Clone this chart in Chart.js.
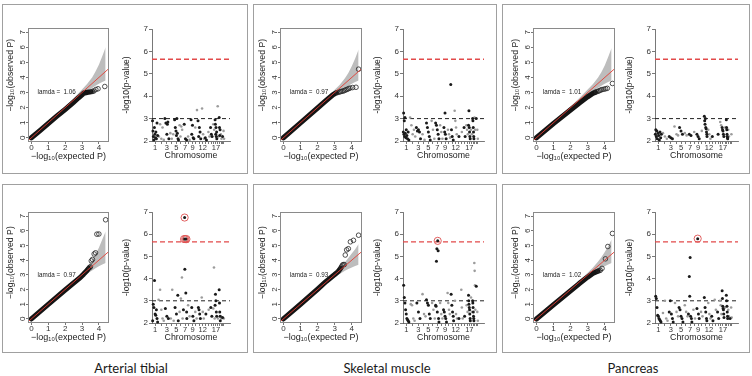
<!DOCTYPE html>
<html><head><meta charset="utf-8">
<script src="https://cdn.jsdelivr.net/npm/chart.js@4/dist/chart.umd.min.js"></script>
<style>
html,body{margin:0;padding:0;background:#fff;}
body{width:752px;height:376px;position:relative;overflow:hidden;}
.box{position:absolute;border:1px solid #a0a0a0;box-sizing:border-box;}
.lbl{position:absolute;font-family:Lato,'Open Sans',sans-serif;font-size:13px;line-height:16px;color:#1a1a1a;transform:translateX(-50%);white-space:nowrap;}
canvas{position:absolute;}
</style></head><body>
<script>
// ================= DATA =================
const tissues = ['Arterial tibial', 'Skeletal muscle', 'Pancreas'];
const lambdas = ['1.06', '0.97', '1.01', '0.97', '0.93', '1.02'];
const chrLen = [249,243,198,191,181,171,159,146,141,136,135,134,115,107,103,90,81,78,59,63,48,51];
const chrLabelled = [1,3,5,7,9,12,17];
const qqTicksX = [0,1,2,3,4];
const qqTicksY = [0,1,2,3,4,5,6,7];
const manTicksY = [2,3,4,5,6,7];
const qqXRange = [-0.2, 4.6];
const qqYRange = [-0.28, 7.28];
const manXRange = [0, 3100];
const manYRange = [2, 7];
const suggestiveLine = 3;
const genomeWideLine = 5.65;
const refLine = [[-0.2,-0.2],[4.6,4.6]];
const lamdaPos = [1.5, 3.0];

// QQ: dense observed body, sparse tail, 95% band
const bandX = [0,1,2,2.5,3,3.3,3.6,3.8,4.0,4.2,4.4];
const bandUpper1 = [0,1.03,2.07,2.62,3.2,3.56,4.0,4.4,4.85,5.4,6.0];
const bandUpper2 = [0,1.03,2.07,2.62,3.18,3.52,3.95,4.3,4.75,5.25,5.85];
const bandUpper3 = [0,1.03,2.07,2.62,3.2,3.55,3.98,4.35,4.8,5.35,5.95];
const bandUpper4 = [0,1.03,2.07,2.62,3.2,3.55,4.0,4.4,4.85,5.4,5.95];
const bandUpper5 = [0,1.03,2.06,2.6,3.15,3.45,3.85,4.15,4.45,4.75,5.1];
const bandUpper6 = [0,1.03,2.06,2.6,3.15,3.48,3.9,4.2,4.55,4.95,5.4];
const bandLower = [0,0.97,1.94,2.4,2.84,3.08,3.3,3.45,3.58,3.7,3.8];
const bandLower5 = [0,0.97,1.94,2.4,2.84,3.06,3.28,3.4,3.5,3.6,3.68];

const qqDense1 = [[0,0],[0.5,0.47],[1,0.95],[1.5,1.42],[2,1.88],[2.5,2.36],[2.8,2.66],[3.0,2.85],[3.1,2.96],[3.3,3.01],[3.55,3.05]];
const qqTail1  = [[3.62,3.08],[3.7,3.1],[3.82,3.2],[3.95,3.25],[4.35,3.4]];
const qqDense2 = [[0,0],[1,0.99],[2,1.98],[2.5,2.47],[2.9,2.85],[3.1,2.98]];
const qqTail2  = [[3.18,3.0],[3.26,3.03],[3.34,3.06],[3.42,3.08],[3.5,3.1],[3.58,3.14],[3.66,3.18],[3.74,3.22],[3.82,3.26],[3.9,3.3],[4.05,3.33],[4.25,3.35],[4.4,4.55]];
const qqDense3 = [[0,0],[1,0.95],[2,1.85],[2.5,2.3],[3,2.72],[3.3,2.95],[3.45,3.02]];
const qqTail3  = [[3.52,3.05],[3.6,3.08],[3.68,3.12],[3.76,3.16],[3.84,3.2],[3.95,3.22],[4.05,3.25],[4.15,3.28],[4.45,3.6]];
const qqDense4 = [[0,0],[1,0.99],[2,1.97],[2.5,2.45],[2.9,2.82],[3.1,3.05],[3.3,3.3],[3.4,3.45]];
const qqTail4  = [[3.45,3.5],[3.5,3.55],[3.55,3.95],[3.62,4.05],[3.72,4.42],[3.8,4.5],[3.88,5.77],[4.0,5.78],[4.4,6.75]];
const qqDense5 = [[0,0],[1,1.0],[2,2.02],[2.5,2.55],[3,3.02],[3.2,3.22],[3.35,3.45]];
const qqTail5  = [[3.4,3.55],[3.45,3.65],[3.5,3.7],[3.56,3.7],[3.62,4.35],[3.7,4.7],[3.8,4.78],[3.92,5.25],[4.1,5.35],[4.4,5.7]];
const qqDense6 = [[0,0],[1,0.96],[2,1.92],[2.5,2.4],[3,2.85],[3.3,3.1],[3.6,3.25]];
const qqTail6  = [[3.66,3.28],[3.74,3.31],[3.84,3.44],[4.04,4.09],[4.18,4.93],[4.45,5.82]];

// Manhattan: [chromosome, fraction along chromosome, -log10(p)]
const man1 = [[1,.08,2.9],[1,.15,2.45],[1,.22,2.2],[1,.3,2.05],[1,.38,2.6],[1,.45,2.3],[1,.55,2.15],[1,.62,2.4],[1,.7,2.1],[1,.8,2.8],[1,.9,2.25],
 [2,.1,2.2],[2,.3,2.75],[2,.5,2.1],[2,.7,2.6],[2,.9,2.05],
 [3,.1,3.0],[3,.3,2.8],[3,.5,2.3],[3,.6,2.75],[3,.7,2.85],[3,.9,2.1],
 [4,.2,2.35],[4,.5,2.1],[4,.8,2.3],
 [5,.1,2.95],[5,.25,2.6],[5,.4,2.45],[5,.5,2.25],[5,.6,3.0],[5,.7,2.35],[5,.85,2.1],[5,.95,2.05],
 [6,.2,2.7],[6,.4,2.2],[6,.6,2.65],[6,.8,2.5],
 [7,.3,2.75],[7,.6,2.1],[7,.9,2.05],
 [8,.3,2.2],[8,.7,2.05],
 [9,.1,2.95],[9,.3,2.3],[9,.5,2.7],[9,.7,2.15],[9,.9,2.1],
 [10,.3,2.6],[10,.8,3.38],
 [11,.1,2.9],[11,.3,2.2],[11,.5,2.6],[11,.7,2.4],[11,.9,2.1],
 [12,.3,3.45],[12,.6,2.3],[12,.9,2.1],
 [13,.3,2.15],[13,.7,2.05],
 [14,.4,2.4],[14,.8,2.2],
 [15,.2,2.6],[15,.5,2.3],[15,.8,2.2],
 [16,.3,2.75],[16,.7,2.5],
 [17,.1,2.95],[17,.25,2.75],[17,.4,2.3],[17,.55,2.6],[17,.7,2.2],[17,.85,2.4],[17,.95,2.1],
 [18,.4,3.55],[18,.8,2.2],
 [19,.2,3.05],[19,.4,2.6],[19,.6,2.25],[19,.8,2.5],
 [20,.3,2.3],[20,.7,2.1],[21,.5,2.2],[22,.3,2.45],[22,.7,2.1]];
const man2 = [[1,.05,2.4],[1,.1,3.25],[1,.15,2.3],[1,.2,2.9],[1,.25,2.2],[1,.3,3.05],[1,.35,2.35],[1,.45,2.15],[1,.5,2.5],[1,.6,2.25],[1,.7,2.1],[1,.8,2.4],[1,.9,2.05],
 [2,.1,3.05],[2,.3,2.7],[2,.5,2.3],[2,.7,2.5],[2,.9,2.2],
 [3,.1,2.6],[3,.3,2.45],[3,.5,2.5],[3,.7,2.4],[3,.9,2.1],
 [4,.3,2.3],[4,.7,2.05],
 [5,.1,2.8],[5,.3,2.6],[5,.5,2.4],[5,.7,2.2],[5,.9,2.05],
 [6,.2,2.9],[6,.5,2.5],[6,.8,2.1],
 [7,.1,2.8],[7,.3,2.7],[7,.5,2.5],[7,.7,2.3],[7,.9,2.1],
 [8,.2,2.7],[8,.5,2.4],[8,.8,2.1],
 [9,.2,2.6],[9,.4,2.4],[9,.5,3.25],[9,.6,2.3],[9,.8,2.1],
 [10,.3,2.5],[10,.6,2.3],[10,.9,2.15],
 [11,.1,4.52],[11,.3,2.5],[11,.5,2.2],[11,.8,2.05],
 [12,.2,3.35],[12,.4,2.9],[12,.6,2.6],[12,.8,2.3],
 [13,.5,2.2],[14,.5,2.4],
 [15,.3,2.6],[15,.7,2.2],
 [16,.2,2.7],[16,.5,2.5],[16,.8,2.3],
 [17,.1,2.7],[17,.3,3.35],[17,.45,2.6],[17,.6,2.4],[17,.75,2.2],[17,.9,2.1],
 [18,.3,2.5],[18,.7,2.3],
 [19,.1,3.0],[19,.3,2.9],[19,.5,2.6],[19,.7,2.4],[19,.85,2.2],[19,.95,2.1],
 [20,.3,3.05],[20,.7,2.5],[21,.5,3.0],[22,.3,2.5],[22,.7,2.1]];
const man3 = [[1,.05,2.3],[1,.12,2.5],[1,.2,2.2],[1,.28,2.45],[1,.35,2.1],[1,.45,2.35],[1,.55,2.25],[1,.65,2.05],[1,.75,2.4],[1,.85,2.15],[1,.95,2.3],
 [2,.2,2.35],[2,.5,2.2],[2,.8,2.1],
 [3,.2,2.2],[3,.5,2.15],[3,.8,2.1],
 [4,.2,2.65],[4,.6,2.3],[4,.9,2.25],
 [5,.2,2.6],[5,.5,2.45],[5,.8,2.3],
 [6,.3,2.35],[6,.7,2.25],
 [7,.3,2.3],[7,.7,2.25],
 [8,.5,2.4],
 [9,.2,2.3],[9,.5,2.2],[9,.8,2.1],
 [10,.5,2.45],
 [11,.2,3.1],[11,.3,2.9],[11,.4,2.75],[11,.5,3.0],[11,.6,2.6],[11,.7,2.55],[11,.8,2.4],[11,.9,2.3],[11,.95,2.2],
 [12,.3,2.5],[12,.6,2.3],[12,.9,2.1],
 [13,.5,2.2],[15,.5,2.3],
 [16,.3,2.85],[16,.7,2.7],
 [17,.1,2.6],[17,.3,2.5],[17,.5,2.45],[17,.7,2.3],[17,.9,2.2],
 [18,.5,2.6],
 [19,.1,2.95],[19,.25,2.6],[19,.4,2.5],[19,.55,2.3],[19,.7,2.2],[19,.85,2.15],[19,.95,2.1],
 [20,.3,2.5],[20,.7,2.2],[22,.5,2.3]];
const man4 = [[1,.1,2.1],[1,.2,2.85],[1,.3,2.7],[1,.4,3.92],[1,.5,2.4],[1,.6,2.35],[1,.7,2.6],[1,.8,2.2],[1,.9,2.05],
 [2,.05,3.05],[2,.3,3.5],[2,.5,2.6],[2,.7,2.2],[2,.9,2.1],
 [3,.2,2.65],[3,.5,2.3],[3,.8,2.2],
 [4,.3,2.2],[4,.6,3.5],[4,.9,2.1],
 [5,.2,2.7],[5,.5,2.4],[5,.8,3.25],[5,.9,2.1],
 [6,.2,2.5],[6,.5,3.1],[6,.75,4.05],[6,.9,2.2],
 [7,.1,2.6],[7,.25,5.78],[7,.4,6.75],[7,.45,4.42],[7,.55,5.78],[7,.7,3.35],[7,.85,5.78],[7,.9,2.5],[7,.95,2.2],
 [8,.3,2.8],[8,.7,2.3],
 [9,.3,2.7],[9,.6,2.3],[9,.9,2.1],
 [10,.3,2.5],[10,.7,2.2],
 [11,.2,2.7],[11,.4,2.6],[11,.6,2.4],[11,.8,2.2],
 [12,.2,3.15],[12,.5,2.5],[12,.8,2.2],
 [13,.5,2.4],[14,.5,2.6],
 [15,.3,2.7],[15,.7,2.3],
 [16,.3,2.65],[16,.6,4.5],[16,.9,2.2],
 [17,.1,2.8],[17,.3,3.3],[17,.5,3.0],[17,.7,2.5],[17,.9,2.3],
 [18,.5,2.2],
 [19,.2,3.5],[19,.4,2.9],[19,.6,2.5],[19,.8,2.3],[19,.95,2.1],
 [20,.3,2.3],[20,.7,2.2],[21,.5,2.25],[22,.5,2.2]];
const man5 = [[1,.1,3.7],[1,.2,3.15],[1,.3,2.9],[1,.4,2.6],[1,.5,2.4],[1,.6,2.2],[1,.7,2.15],[1,.8,2.1],[1,.9,2.05],
 [2,.2,2.85],[2,.4,2.8],[2,.6,2.2],[2,.8,2.1],
 [3,.2,2.9],[3,.5,2.5],[3,.8,2.2],
 [4,.3,3.3],[4,.6,2.4],[4,.9,2.3],
 [5,.1,3.05],[5,.3,2.9],[5,.5,2.8],[5,.7,2.4],[5,.9,2.2],
 [6,.3,2.9],[6,.6,2.6],[6,.9,2.2],
 [7,.1,2.8],[7,.2,2.75],[7,.3,4.78],[7,.4,5.35],[7,.5,2.5],[7,.6,5.7],[7,.7,5.25],[7,.8,2.2],[7,.9,2.05],
 [8,.2,2.9],[8,.5,2.4],[8,.8,2.2],
 [9,.1,2.6],[9,.3,2.5],[9,.5,2.3],[9,.7,2.2],[9,.9,2.05],
 [10,.2,3.35],[10,.4,2.9],[10,.6,2.6],[10,.8,2.4],
 [11,.2,3.3],[11,.4,2.8],[11,.6,2.5],[11,.8,2.3],[11,.9,2.1],
 [12,.3,3.0],[12,.6,2.4],[12,.9,2.2],
 [13,.5,2.2],
 [14,.3,3.5],[14,.5,2.7],[14,.8,2.2],
 [15,.5,2.3],
 [16,.3,2.8],[16,.7,2.5],
 [17,.1,3.25],[17,.2,3.0],[17,.3,2.85],[17,.45,2.7],[17,.6,2.6],[17,.7,2.4],[17,.85,2.2],[17,.95,2.1],
 [18,.3,3.15],[18,.7,2.5],
 [19,.1,3.0],[19,.25,2.9],[19,.4,2.7],[19,.55,2.5],[19,.7,2.3],[19,.85,2.2],[19,.95,2.1],
 [20,.2,4.7],[20,.4,4.35],[20,.6,3.7],[20,.8,2.6],
 [21,.5,3.65],[22,.3,2.5],[22,.7,2.1]];
const man6 = [[1,.1,3.2],[1,.2,3.1],[1,.3,2.7],[1,.4,2.35],[1,.5,2.3],[1,.6,2.2],[1,.7,2.15],[1,.8,2.1],[1,.9,2.05],
 [2,.2,2.45],[2,.5,3.0],[2,.7,2.2],[2,.9,2.1],
 [3,.2,2.5],[3,.4,3.0],[3,.6,2.4],[3,.8,2.2],[3,.95,2.05],
 [4,.3,2.9],[4,.6,2.5],[4,.9,2.3],
 [5,.1,2.7],[5,.3,2.6],[5,.5,2.3],[5,.7,2.2],[5,.9,2.05],
 [6,.3,2.8],[6,.6,2.5],[6,.9,2.3],
 [7,.1,2.4],[7,.3,4.1],[7,.4,3.2],[7,.5,4.95],[7,.6,2.3],[7,.8,2.2],[7,.9,2.05],
 [8,.3,2.6],[8,.7,2.2],
 [9,.2,2.65],[9,.4,5.8],[9,.6,2.4],[9,.8,2.2],
 [10,.3,2.5],[10,.7,2.3],
 [11,.2,3.15],[11,.4,2.7],[11,.6,2.5],[11,.8,2.2],[11,.9,2.1],
 [12,.3,2.9],[12,.6,2.4],[12,.9,2.2],
 [13,.3,2.3],[13,.7,2.1],
 [14,.3,3.05],[14,.7,2.6],
 [15,.3,2.5],[15,.7,2.2],
 [16,.2,3.0],[16,.5,2.8],[16,.8,2.4],
 [17,.1,3.45],[17,.25,3.1],[17,.4,2.75],[17,.55,2.65],[17,.7,2.6],[17,.85,2.4],[17,.95,2.25],
 [18,.5,2.7],
 [19,.1,3.25],[19,.3,3.0],[19,.5,2.75],[19,.7,2.5],[19,.85,2.3],[19,.95,2.2],
 [20,.3,2.6],[20,.7,2.3],[21,.5,2.2],[22,.3,2.7],[22,.7,2.25]];
const hits1 = [], hits2 = [], hits3 = [];
const hits4 = [[7,.25,5.78],[7,.4,6.75],[7,.55,5.78],[7,.85,5.78]];
const hits5 = [[7,.6,5.7]];
const hits6 = [[9,.4,5.8]];

// ================= LAYOUT =================
const F = "'Liberation Sans', Arial, Helvetica, sans-serif";
const cols = [{qq:[28,109], man:[152,230], box:[2,248]}, {qq:[280,362], man:[403,484], box:[253,497]}, {qq:[533,615], man:[655,738], box:[502,750]}];
const rows = [{qq:[28,142], man:[29,141], box:[4,174], titlePad:'        '}, {qq:[212,323], man:[212,323], box:[184,353], titlePad:'    '}];

const panels = [
  {lam:lambdas[0], dense:qqDense1, tail:qqTail1, up:bandUpper1, lo:bandLower, man:man1, hits:hits1},
  {lam:lambdas[1], dense:qqDense2, tail:qqTail2, up:bandUpper2, lo:bandLower, man:man2, hits:hits2},
  {lam:lambdas[2], dense:qqDense3, tail:qqTail3, up:bandUpper3, lo:bandLower, man:man3, hits:hits3},
  {lam:lambdas[3], dense:qqDense4, tail:qqTail4, up:bandUpper4, lo:bandLower, man:man4, hits:hits4},
  {lam:lambdas[4], dense:qqDense5, tail:qqTail5, up:bandUpper5, lo:bandLower5, man:man5, hits:hits5},
  {lam:lambdas[5], dense:qqDense6, tail:qqTail6, up:bandUpper6, lo:bandLower, man:man6, hits:hits6}
];

const chrStart = []; let acc = 0; chrLen.forEach(l => { chrStart.push(acc); acc += l; });
const chrCenter = chrLen.map((l, i) => chrStart[i] + l / 2);
const toXY = a => a.map(p => ({x: p[0], y: p[1]}));
const toGenome = t => ({x: chrStart[t[0]-1] + t[1] * chrLen[t[0]-1], y: t[2]});

function mk(left, top, w, h) {
  const c = document.createElement('canvas');
  c.width = w; c.height = h;
  c.style.left = left + 'px'; c.style.top = top + 'px';
  c.style.width = w + 'px'; c.style.height = h + 'px';
  document.body.appendChild(c);
  return c;
}
function addDiv(cls, left, top, w, h, text) {
  const d = document.createElement('div'); d.className = cls;
  d.style.left = left + 'px'; d.style.top = top + 'px';
  if (w) d.style.width = w + 'px';
  if (h) d.style.height = h + 'px';
  if (text) d.textContent = text;
  document.body.appendChild(d);
}

const framePlugin = {id: 'frame', afterDatasetsDraw(chart) {
  const a = chart.chartArea, ctx = chart.ctx;
  ctx.save(); ctx.strokeStyle = '#8a8a8a'; ctx.lineWidth = 1;
  ctx.strokeRect(Math.round(a.left) + 0.5, Math.round(a.top) + 0.5, Math.round(a.right - a.left) - 1, Math.round(a.bottom - a.top) - 1);
  ctx.restore();
}};
const lamdaPlugin = {id: 'lamda', afterDatasetsDraw(chart) {
  const o = chart.options.plugins.lamda; if (!o || !o.text) return;
  const ctx = chart.ctx, x = chart.scales.x, y = chart.scales.y;
  ctx.save(); ctx.font = '6.3px ' + F; ctx.fillStyle = '#222'; ctx.textAlign = 'center'; ctx.textBaseline = 'middle';
  ctx.fillText(o.text, x.getPixelForValue(o.px), y.getPixelForValue(o.py));
  ctx.restore();
}};

function tickGrid(len) { return {drawOnChartArea: false, drawTicks: true, tickLength: len, color: '#555', lineWidth: 0.8}; }

function drawQQ(p, col, row) {
  const [fx0, fx1] = col.qq, [fy0, fy1] = row.qq;
  const WY = 23, HX = 20, PT = 6, PR = 6;
  const c = mk(fx0 - WY, fy0 - PT, fx1 - fx0 + WY + PR, fy1 - fy0 + PT + HX);
  const band = arr => arr.map((v, i) => ({x: bandX[i], y: v}));
  new Chart(c, {
    type: 'line',
    data: {datasets: [
      {data: toXY(refLine), borderColor: 'rgba(226,62,52,0.9)', borderWidth: 1, pointRadius: 0, order: 0},
      {data: toXY(p.tail), showLine: false, pointRadius: 2.3, pointBorderWidth: 0.8, pointBorderColor: '#262626', pointBackgroundColor: 'rgba(255,255,255,0)', order: 1},
      {data: toXY(p.dense), borderColor: '#141414', borderWidth: 5.2, borderCapStyle: 'round', borderJoinStyle: 'round', pointRadius: 0, order: 2},
      {data: band(p.up), borderWidth: 0, borderColor: 'rgba(0,0,0,0)', pointRadius: 0, fill: '+1', backgroundColor: '#bdbdbd', order: 3},
      {data: band(p.lo), borderWidth: 0, borderColor: 'rgba(0,0,0,0)', pointRadius: 0, fill: false, order: 4}
    ]},
    options: {
      responsive: false, animation: false, devicePixelRatio: 1, events: [],
      layout: {padding: {top: PT, right: PR, left: 0, bottom: 0}},
      elements: {line: {tension: 0}},
      plugins: {legend: {display: false}, tooltip: {enabled: false}, lamda: {text: 'lamda =  ' + p.lam, px: lamdaPos[0], py: lamdaPos[1]}},
      scales: {
        x: {type: 'linear', min: qqXRange[0], max: qqXRange[1],
          afterBuildTicks: s => { s.ticks = qqTicksX.map(v => ({value: v})); },
          afterFit: s => { s.height = HX; },
          border: {display: false}, grid: tickGrid(2),
          ticks: {autoSkip: false, maxRotation: 0, padding: 0, color: '#333', font: {family: F, size: 8, lineHeight: 1}},
          title: {display: true, text: '−log₁₀(expected P)', color: '#222', padding: 0, font: {family: F, size: 9, lineHeight: 1.2}}},
        y: {type: 'linear', min: qqYRange[0], max: qqYRange[1],
          afterBuildTicks: s => { s.ticks = qqTicksY.map(v => ({value: v})); },
          afterFit: s => { s.width = WY; },
          border: {display: false}, grid: tickGrid(2),
          ticks: {autoSkip: false, minRotation: 90, maxRotation: 90, crossAlign: 'center', padding: 1, color: '#333', font: {family: F, size: 8, lineHeight: 1}},
          title: {display: true, text: row.titlePad + '−log₁₀(observed P)', color: '#222', padding: 0, font: {family: F, size: 8.7, lineHeight: 1.2}}}
      }
    },
    plugins: [framePlugin, lamdaPlugin]
  });
}

function drawMan(p, col, row) {
  const [ax0, ax1] = col.man, [y7, y2] = row.man;
  const WY = 30, HX = 20, PT = 6, PR = 6;
  const c = mk(ax0 - WY, y7 - PT, ax1 - ax0 + WY + PR, y2 - y7 + PT + HX);
  const blackPts = p.man.filter(t => t[0] % 2 === 1).map(toGenome);
  const greyPts = p.man.filter(t => t[0] % 2 === 0).map(toGenome);
  const hitPts = p.hits.map(toGenome);
  const hline = v => [{x: manXRange[0], y: v}, {x: manXRange[1], y: v}];
  new Chart(c, {
    type: 'line',
    data: {datasets: [
      {data: hitPts, showLine: false, pointRadius: 3.6, pointBorderWidth: 1, pointBorderColor: 'rgba(222,80,80,0.9)', pointBackgroundColor: 'rgba(255,255,255,0)', clip: false, order: 0},
      {data: blackPts, showLine: false, pointRadius: 1.5, pointBorderWidth: 0, pointBackgroundColor: '#1a1a1a', clip: false, order: 1},
      {data: greyPts, showLine: false, pointRadius: 1.3, pointBorderWidth: 0, pointBackgroundColor: '#9c9c9c', clip: false, order: 2},
      {data: hline(genomeWideLine), borderColor: '#e24a4a', borderDash: [5, 3], borderWidth: 1.3, pointRadius: 0, order: 3},
      {data: hline(suggestiveLine), borderColor: '#222', borderDash: [4, 3], borderWidth: 1, pointRadius: 0, order: 3}
    ]},
    options: {
      responsive: false, animation: false, devicePixelRatio: 1, events: [],
      layout: {padding: {top: PT, right: PR, left: 0, bottom: 0}},
      plugins: {legend: {display: false}, tooltip: {enabled: false}},
      scales: {
        x: {type: 'linear', min: manXRange[0], max: manXRange[1],
          afterBuildTicks: s => { s.ticks = chrCenter.map(v => ({value: v})); },
          afterFit: s => { s.height = HX; },
          border: {display: true, color: '#555', width: 0.8}, grid: tickGrid(3),
          ticks: {autoSkip: false, maxRotation: 0, padding: 0, color: '#333', font: {family: F, size: 7.5, lineHeight: 1},
            callback: (v, i) => chrLabelled.includes(i + 1) ? String(i + 1) : ''},
          title: {display: true, text: 'Chromosome', color: '#222', padding: 0, font: {family: F, size: 8.8, lineHeight: 1.2}}},
        y: {type: 'linear', min: manYRange[0], max: manYRange[1],
          afterBuildTicks: s => { s.ticks = manTicksY.map(v => ({value: v})); },
          afterFit: s => { s.width = WY; },
          border: {display: true, color: '#555', width: 0.8}, grid: tickGrid(3),
          ticks: {autoSkip: false, padding: 1, color: '#333', font: {family: F, size: 8, lineHeight: 1}},
          title: {display: true, text: '-log10(p-value)', color: '#222', padding: 0, font: {family: F, size: 8.5, lineHeight: 1.2}}}
      }
    }
  });
}

rows.forEach((row, r) => cols.forEach((col, k) => {
  addDiv('box', col.box[0], row.box[0], col.box[1] - col.box[0], row.box[1] - row.box[0]);
  const p = panels[r * 3 + k];
  drawQQ(p, col, row);
  drawMan(p, col, row);
}));
const labelX = [131, 387, 633];
tissues.forEach((t, k) => addDiv('lbl', labelX[k], 360, 0, 0, t));
</script>
</body></html>
